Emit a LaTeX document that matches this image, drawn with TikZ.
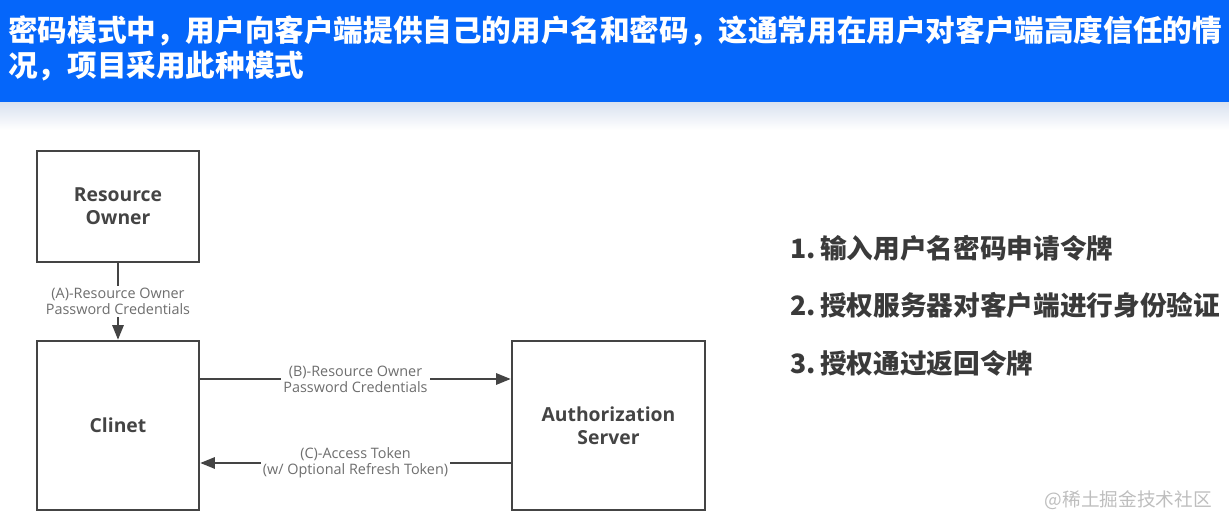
\documentclass[tikz,border=0pt]{standalone}
\usepackage{fontspec}
\usepackage{tikz}
\usetikzlibrary{arrows.meta}
\setmainfont{Open Sans}
\newfontfamily\cjk{Noto Sans CJK SC}
\definecolor{headblue}{RGB}{5,102,250}
\definecolor{shadetop}{RGB}{218,226,240}
\definecolor{boxgray}{RGB}{68,68,68}
\definecolor{labelgray}{RGB}{110,110,110}
\definecolor{listgray}{RGB}{58,58,58}
\definecolor{markgray}{RGB}{190,190,190}

\begin{document}
\begin{tikzpicture}[x=0.75pt,y=-0.75pt,>={Triangle[length=11pt,width=8.5pt]},
  box/.style={draw=boxgray,line width=1.9pt,align=center,font=\bfseries\fontsize{14.5}{17.5}\selectfont,text=boxgray},
  flow/.style={draw=boxgray,line width=1.5pt,->},
  flowlabel/.style={fill=white,inner sep=1.5pt,align=center,text=labelgray,font=\fontsize{10.8}{12.2}\selectfont}]
\pgfmathsetmacro\bw{162*0.75}
\pgfmathsetmacro\aw{193*0.75}
\pgfmathsetmacro\rh{111*0.75}
\pgfmathsetmacro\ch{169*0.75}
\useasboundingbox (0,0) rectangle (1229,530);

% header band
\fill[headblue] (0,0) rectangle (1229,103);
\shade[top color=shadetop,bottom color=white] (0,103) rectangle (1229,130);
\node[anchor=west,text=white,font=\cjk\bfseries\fontsize{22.2}{26}\selectfont,inner sep=0pt] (hdA) at (8,31)
  {密码模式中，用户向客户端提供自己的用户名和密码，这通常用在用户对客户端高度信任的情};
\node[anchor=west,text=white,font=\cjk\bfseries\fontsize{22.2}{26}\selectfont,inner sep=0pt] (hdB) at (8,66)
  {况，项目采用此种模式};

% boxes
\node[box,minimum width=\bw pt,minimum height=\rh pt] (ro) at (118,206.5) {Resource\\Owner};
\node[box,minimum width=\bw pt,minimum height=\ch pt] (cl) at (118,425.5) {Clinet};
\node[box,minimum width=\aw pt,minimum height=\ch pt] (as) at (608.5,425.5) {Authorization\\Server};

\coordinate (yB) at (0,379);
\coordinate (yC) at (0,463);
\draw[flow] (ro.south) -- node[flowlabel] {(A)-Resource Owner\\Password Credentials} (cl.north);
\draw[flow] (cl.east |- yB) -- node[flowlabel] {(B)-Resource Owner\\Password Credentials} (as.west |- yB);
\draw[flow] (as.west |- yC) -- node[flowlabel] {(C)-Access Token\\(w/ Optional Refresh Token)} (cl.east |- yC);

% steps
\foreach \k/\txt in {1/输入用户名密码申请令牌,2/授权服务器对客户端进行身份验证,3/授权通过返回令牌} {
  \node[anchor=west,inner sep=0pt,text=listgray,font=\cjk\bfseries\fontsize{20}{24}\selectfont] (step\k) at (790,{248+(\k-1)*57.5}) {\k.\,\txt};
}

\node[anchor=east,inner sep=0pt,text=markgray,font=\cjk\fontsize{14}{16}\selectfont] (mark) at (1212,500) {@稀土掘金技术社区};
\end{tikzpicture}
\end{document}
